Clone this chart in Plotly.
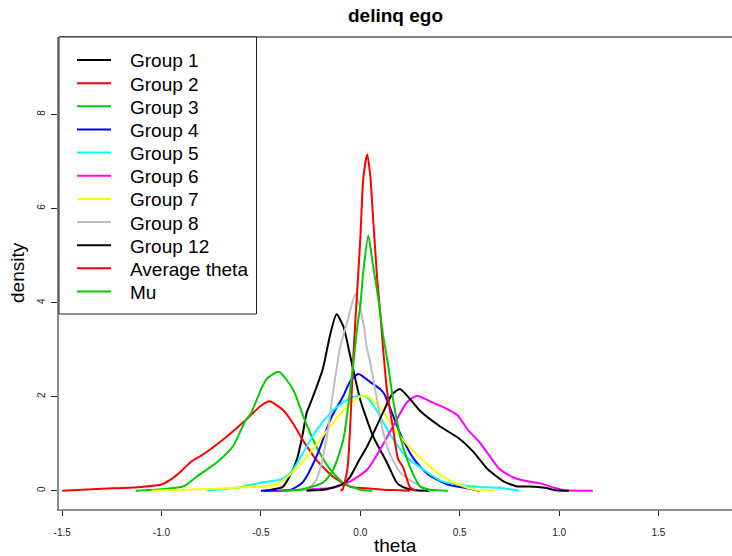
import plotly.graph_objects as go

# ---------------- data ----------------
series_names = ["Group 1", "Group 2", "Group 3", "Group 4", "Group 5", "Group 6",
                "Group 7", "Group 8", "Group 12", "Average theta", "Mu"]
series_colors = ["#000000", "#FF0000", "#00CD00", "#0000FF", "#00FFFF", "#FF00FF",
                 "#FFFF00", "#BEBEBE", "#000000", "#FF0000", "#00CD00"]

g1_x = [-0.49, -0.45, -0.39, -0.35, -0.32, -0.29, -0.27, -0.25, -0.19, -0.15, -0.12, -0.085, -0.05, 0.0, 0.065, 0.135, 0.185, 0.23, 0.28, 0.35]
g1_y = [0.0, 0.02, 0.08, 0.35, 0.65, 1.2, 1.66, 1.87, 2.57, 3.35, 3.75, 3.49, 2.85, 1.93, 1.15, 0.59, 0.16, 0.05, 0.01, 0.0]

g2_x = [-1.5, -1.3, -1.1, -1.0, -0.953, -0.9, -0.853, -0.788, -0.687, -0.587, -0.502, -0.457, -0.39, -0.34, -0.29, -0.22, -0.135, -0.05, 0.03, 0.115, 0.2, 0.25]
g2_y = [0.0, 0.04, 0.08, 0.13, 0.24, 0.42, 0.61, 0.78, 1.10, 1.46, 1.80, 1.90, 1.72, 1.44, 1.08, 0.65, 0.29, 0.08, 0.05, 0.02, 0.01, 0.0]

g3_x = [-1.13, -1.0, -0.89, -0.82, -0.72, -0.64, -0.58, -0.55, -0.5, -0.47, -0.41, -0.337, -0.286, -0.22, -0.15, -0.085, 0.0, 0.06]
g3_y = [0.0, 0.03, 0.09, 0.31, 0.61, 0.95, 1.47, 1.65, 2.15, 2.38, 2.53, 2.14, 1.57, 0.93, 0.44, 0.16, 0.02, 0.0]

g4_x = [-0.5, -0.35, -0.29, -0.22, -0.15, -0.085, -0.05, -0.01, 0.05, 0.1, 0.12, 0.2, 0.27, 0.34, 0.44, 0.54, 0.6]
g4_y = [0.0, 0.02, 0.18, 0.73, 1.52, 2.02, 2.33, 2.48, 2.31, 2.16, 2.06, 1.22, 0.67, 0.35, 0.13, 0.05, 0.0]

g5_x = [-0.77, -0.6, -0.5, -0.4, -0.35, -0.3, -0.22, -0.135, -0.05, 0.0, 0.03, 0.08, 0.145, 0.23, 0.32, 0.4, 0.5, 0.6, 0.7, 0.8]
g5_y = [0.0, 0.08, 0.17, 0.24, 0.38, 0.72, 1.29, 1.72, 1.97, 2.02, 2.0, 1.72, 1.23, 0.72, 0.44, 0.22, 0.12, 0.08, 0.06, 0.0]

g6_x = [-0.42, -0.3, -0.2, -0.135, -0.05, 0.035, 0.1, 0.165, 0.235, 0.285, 0.35, 0.44, 0.49, 0.54, 0.6, 0.65, 0.7, 0.77, 0.84, 0.9, 0.97, 1.03, 1.17]
g6_y = [0.0, 0.02, 0.04, 0.06, 0.2, 0.45, 0.88, 1.37, 1.88, 2.02, 1.9, 1.73, 1.6, 1.3, 1.03, 0.74, 0.46, 0.28, 0.2, 0.16, 0.07, 0.01, 0.0]

g7_x = [-1.05, -0.8, -0.6, -0.42, -0.34, -0.25, -0.15, -0.065, 0.0, 0.03, 0.095, 0.165, 0.245, 0.33, 0.415, 0.5, 0.58, 0.68]
g7_y = [0.0, 0.03, 0.07, 0.13, 0.39, 0.82, 1.38, 1.8, 2.0, 2.02, 1.79, 1.36, 0.94, 0.59, 0.3, 0.12, 0.02, 0.0]

g8_x = [-0.30, -0.26, -0.22, -0.17, -0.135, -0.1, -0.065, -0.025, 0.016, 0.03, 0.05, 0.065, 0.115, 0.145, 0.2, 0.27, 0.32, 0.35]
g8_y = [0.0, 0.05, 0.24, 1.1, 2.17, 3.08, 3.6, 4.18, 3.56, 3.1, 2.72, 2.37, 1.25, 0.82, 0.39, 0.17, 0.06, 0.0]

g12_x = [-0.27, -0.17, -0.085, -0.05, -0.015, 0.035, 0.115, 0.16, 0.2, 0.25, 0.3, 0.4, 0.5, 0.57, 0.64, 0.72, 0.79, 0.85, 0.93, 0.98, 1.05]
g12_y = [0.0, 0.03, 0.15, 0.30, 0.58, 0.95, 1.67, 2.05, 2.16, 1.95, 1.7, 1.37, 1.1, 0.82, 0.46, 0.2, 0.09, 0.09, 0.06, 0.01, 0.0]

avg_x = [-0.1, -0.09, -0.065, -0.05, -0.035, -0.025, -0.015, 0.0, 0.015, 0.035, 0.05, 0.06, 0.085, 0.1, 0.115, 0.135, 0.165, 0.19, 0.215, 0.25, 0.28]
avg_y = [0.0, 0.02, 0.46, 1.45, 2.87, 3.6, 4.3, 5.37, 6.65, 7.15, 6.7, 6.08, 4.5, 3.8, 3.0, 2.1, 1.31, 0.67, 0.5, 0.07, 0.0]

mu_x = [-0.4, -0.3, -0.185, -0.135, -0.085, -0.05, -0.03, -0.015, 0.0, 0.015, 0.04, 0.06, 0.09, 0.115, 0.135, 0.167, 0.2, 0.235, 0.27, 0.3, 0.35, 0.44]
mu_y = [0.0, 0.02, 0.18, 0.46, 1.1, 2.17, 2.9, 3.5, 3.94, 4.66, 5.43, 4.9, 4.1, 3.3, 2.8, 1.88, 1.16, 0.67, 0.31, 0.09, 0.02, 0.0]

x_ticks = [-1.5, -1.0, -0.5, 0.0, 0.5, 1.0, 1.5]
y_ticks = [0, 2, 4, 6, 8]

all_x = [g1_x, g2_x, g3_x, g4_x, g5_x, g6_x, g7_x, g8_x, g12_x, avg_x, mu_x]
all_y = [g1_y, g2_y, g3_y, g4_y, g5_y, g6_y, g7_y, g8_y, g12_y, avg_y, mu_y]

# ---------------- layout constants (pixels) ----------------
W, H = 732, 556
ML, MR, MT, MB = 59, 0, 37, 47
PW, PH = W - ML - MR, H - MT - MB
FONT = "Liberation Sans, Arial, sans-serif"


def px_x(p):
    return (p - ML) / PW


def px_y(p):
    return (H - MB - p) / PH


fig = go.Figure()
for name, color, xs, ys in zip(series_names, series_colors, all_x, all_y):
    fig.add_trace(go.Scatter(x=xs, y=ys, mode="lines", name=name, showlegend=False,
                             line=dict(color=color, width=2, shape="spline", smoothing=0.6)))

shapes = []
annotations = []

# plot frame top line
shapes.append(dict(type="line", xref="paper", yref="paper", x0=0, x1=1, y0=1, y1=1,
                   line=dict(color="#5a5a5a", width=1.5)))

# legend box (drawn manually to match R's legend)
shapes.append(dict(type="rect", xref="paper", yref="paper",
                   x0=px_x(59), x1=px_x(256.5), y0=px_y(314), y1=px_y(37),
                   line=dict(color="#222222", width=1), fillcolor="rgba(255,255,255,1)", layer="above"))
for i, (name, color) in enumerate(zip(series_names, series_colors)):
    yp = 60 + 23.15 * i
    shapes.append(dict(type="line", xref="paper", yref="paper",
                       x0=px_x(77), x1=px_x(111), y0=px_y(yp), y1=px_y(yp),
                       line=dict(color=color, width=2), layer="above"))
    annotations.append(dict(text=name, xref="paper", yref="paper", x=px_x(128), y=px_y(yp + 1),
                            xanchor="left", yanchor="middle", showarrow=False,
                            font=dict(family=FONT, size=19, color="#000000")))

# axis titles
annotations.append(dict(text="theta", xref="paper", yref="paper", x=0.5, y=px_y(545),
                        xanchor="center", yanchor="middle", showarrow=False,
                        font=dict(family=FONT, size=19, color="#000000")))
annotations.append(dict(text="density", xref="paper", yref="paper", x=px_x(17), y=0.5,
                        xanchor="center", yanchor="middle", showarrow=False, textangle=-90,
                        font=dict(family=FONT, size=19, color="#000000")))

fig.update_layout(
    width=W, height=H,
    margin=dict(l=ML, r=MR, t=MT, b=MB, pad=0),
    paper_bgcolor="white", plot_bgcolor="white",
    title=dict(text="<b>delinq ego</b>", x=0.5, xref="paper", xanchor="center",
               y=1 - 15.5 / H, yref="container", yanchor="middle",
               font=dict(family=FONT, size=19, color="#000000")),
    shapes=shapes, annotations=annotations,
    xaxis=dict(range=[-1.516, 1.870], tickvals=x_ticks, ticktext=[f"{v:.1f}" for v in x_ticks],
               showgrid=False, zeroline=False, showline=True, linecolor="#8c8c8c", linewidth=2,
               ticks="outside", ticklen=5, tickwidth=1, tickcolor="#222222",
               tickfont=dict(family=FONT, size=10, color="#222222"), ticklabelstandoff=8),
    yaxis=dict(range=[-0.39, 9.65], tickvals=y_ticks, ticktext=[str(v) for v in y_ticks],
               showgrid=False, zeroline=False, showline=True, linecolor="#8c8c8c", linewidth=1.5,
               ticks="outside", ticklen=6, tickwidth=1, tickcolor="#222222", tickangle=-90,
               tickfont=dict(family=FONT, size=10, color="#222222"), ticklabelstandoff=2),
)

fig.write_html("out.html")
